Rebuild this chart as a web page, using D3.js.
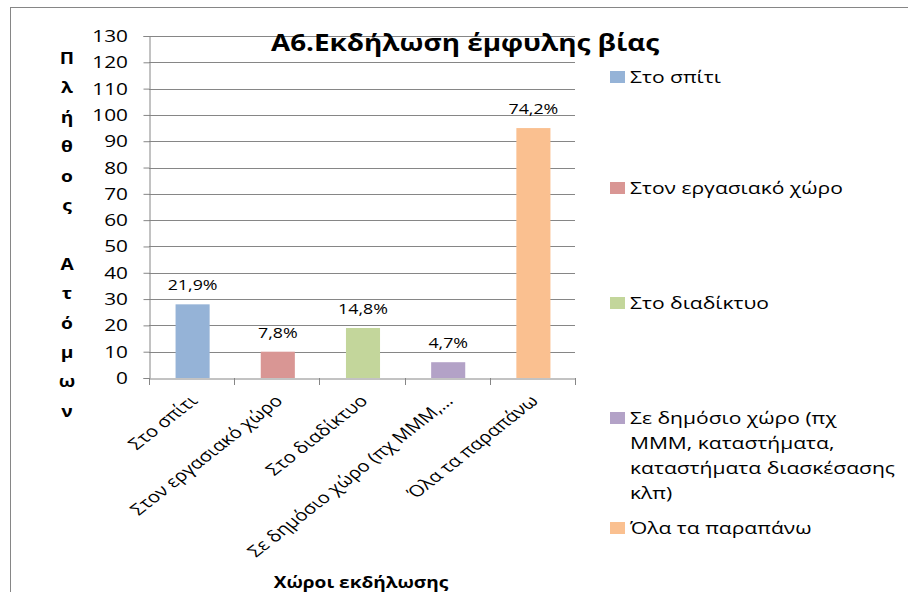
<!DOCTYPE html>
<html>
<head>
<meta charset="utf-8">
<script src="https://cdn.jsdelivr.net/npm/d3@7"></script>
<style>
  body { margin: 0; background: #fff; }
  svg text { font-family: "Open Sans", sans-serif; fill: #000; }
</style>
</head>
<body>
<svg id="chart" width="908" height="592"></svg>
<script>
// data
var categories = ['Στο σπίτι', 'Στον εργασιακό χώρο', 'Στο διαδίκτυο',
  'Σε δημόσιο χώρο (πχ ΜΜΜ, καταστήματα, καταστήματα διασκέσασης κλπ)', 'Όλα τα παραπάνω'];
var tickLabels = ['Στο σπίτι', 'Στον εργασιακό χώρο', 'Στο διαδίκτυο',
  'Σε δημόσιο χώρο (πχ ΜΜΜ,…', 'Όλα τα παραπάνω'];
var counts = [28, 10, 19, 6, 95];
var pctLabels = ['21,9%', '7,8%', '14,8%', '4,7%', '74,2%'];
var colors = ['#95B3D7', '#D99694', '#C3D69B', '#B3A2C7', '#FAC090'];
var legendLines = [
  ['Στο σπίτι'],
  ['Στον εργασιακό χώρο'],
  ['Στο διαδίκτυο'],
  ['Σε δημόσιο χώρο (πχ', 'ΜΜΜ, καταστήματα,', 'καταστήματα διασκέσασης', 'κλπ)'],
  ['Όλα τα παραπάνω']
];
var yTitle = 'Πλήθος Ατόμων';

var svg = d3.select('#chart');
var grid = '#868686';

// the source picture is stretched sideways, so text gets a horizontal scale
function place (x, y, sx) {
  return 'translate(' + x + ',' + y + ') scale(' + sx + ',1)';
}

// outer frame (only top and left edges fall inside the picture)
svg.append('rect')
  .attr('x', 10.5).attr('y', 7.5)
  .attr('width', 1000).attr('height', 1000)
  .attr('fill', 'none').attr('stroke', grid);

var x = d3.scaleBand().domain(d3.range(categories.length)).range([149, 575]).padding(0);
var y = d3.scaleLinear().domain([0, 130]).range([378, 36]);

// gridlines
svg.append('g').selectAll('line')
  .data(d3.range(10, 131, 10))
  .join('line')
  .attr('x1', 149).attr('x2', 575)
  .attr('y1', function (d) { return Math.round(y(d)) + 0.5; })
  .attr('y2', function (d) { return Math.round(y(d)) + 0.5; })
  .attr('stroke', grid);

// y axis
var yAxis = svg.append('g')
  .attr('transform', 'translate(149.5,0)')
  .call(d3.axisLeft(y).tickValues(d3.range(0, 131, 10)).tickSize(6).tickFormat(''));
yAxis.select('.domain').attr('stroke', grid);
yAxis.selectAll('.tick line').attr('stroke', grid);
svg.append('g').selectAll('text')
  .data(d3.range(0, 131, 10))
  .join('text')
  .attr('transform', function (d) { return place(128, y(d) + 6, 1.3); })
  .attr('text-anchor', 'end')
  .attr('font-size', 16)
  .text(function (d) { return d; });

// x axis
var xAxis = svg.append('g')
  .attr('transform', 'translate(0,378.5)')
  .call(d3.axisBottom(x).tickSize(0).tickFormat(''));
xAxis.select('.domain').attr('stroke', grid);
svg.append('g').selectAll('line')
  .data(d3.range(categories.length + 1))
  .join('line')
  .attr('x1', function (i) { return Math.round(149 + i * x.bandwidth()) + 0.5; })
  .attr('x2', function (i) { return Math.round(149 + i * x.bandwidth()) + 0.5; })
  .attr('y1', 378).attr('y2', 385)
  .attr('stroke', grid);

// bars
var bw = x.bandwidth() * 0.4;
svg.append('g').selectAll('rect')
  .data(counts)
  .join('rect')
  .attr('x', function (d, i) { return x(i) + x.bandwidth() / 2 - bw / 2 + 1; })
  .attr('y', function (d) { return y(d); })
  .attr('width', bw)
  .attr('height', function (d) { return y(0) - y(d); })
  .attr('fill', function (d, i) { return colors[i]; });

// bar labels
svg.append('g').selectAll('text')
  .data(counts)
  .join('text')
  .attr('transform', function (d, i) {
    return place(x(i) + x.bandwidth() / 2 + 1, y(d) - 14, 1.27);
  })
  .attr('text-anchor', 'middle')
  .attr('font-size', 14)
  .text(function (d, i) { return pctLabels[i]; });

// category labels, rotated inside the sideways stretch
svg.append('g').selectAll('text')
  .data(tickLabels)
  .join('text')
  .attr('transform', function (d, i) {
    return place(x(i) + x.bandwidth() / 2 + 7, 402, 1.27) + ' rotate(-45)';
  })
  .attr('text-anchor', 'end')
  .attr('font-size', 16)
  .text(function (d) { return d; });

// title
svg.append('text')
  .attr('transform', place(465, 51, 1.16))
  .attr('text-anchor', 'middle')
  .attr('font-size', 24).attr('font-weight', 'bold')
  .text('Α6.Εκδήλωση έμφυλης βίας');

// x axis title
svg.append('text')
  .attr('transform', place(361, 588, 1.19))
  .attr('text-anchor', 'middle')
  .attr('font-size', 16).attr('font-weight', 'bold')
  .text('Χώροι εκδήλωσης');

// y axis title, one letter per line
svg.append('g').selectAll('text')
  .data(yTitle.split(''))
  .join('text')
  .attr('transform', function (d, i) { return place(67, 64 + i * 29.4, 1.2); })
  .attr('text-anchor', 'middle')
  .attr('font-size', 16).attr('font-weight', 'bold')
  .text(function (d) { return d; });

// legend
var legendY = [77, 188, 303, 418, 528];
var leg = svg.append('g').selectAll('g')
  .data(legendLines)
  .join('g')
  .attr('transform', function (d, i) { return 'translate(610,' + legendY[i] + ')'; });
leg.append('rect')
  .attr('x', 0).attr('y', -6)
  .attr('width', 15).attr('height', 12)
  .attr('fill', function (d, i) { return colors[i]; });
leg.each(function (lines) {
  d3.select(this).selectAll('text')
    .data(lines)
    .join('text')
    .attr('transform', function (d, j) { return place(20, 6 + j * 25, 1.24); })
    .attr('font-size', 17)
    .text(function (d) { return d; });
});
</script>
</body>
</html>
